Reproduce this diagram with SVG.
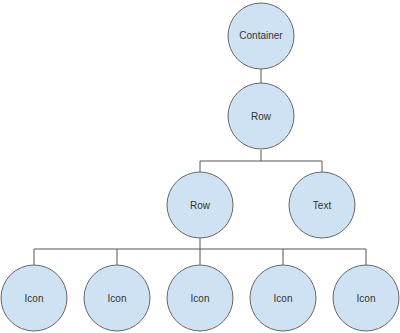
<svg xmlns="http://www.w3.org/2000/svg" width="400" height="333" viewBox="0 0 400 333">
<style>
.n{fill:#cfe2f3;stroke:#666;stroke-width:1}
.t{font-family:"Liberation Sans",Arial,sans-serif;font-size:10px;fill:#333;text-anchor:middle;dominant-baseline:central}
.c{fill:none;stroke:#555;stroke-width:1}
</style>
<rect width="400" height="333" fill="#fff"/>
<g id="connectors">
<path class="c" d="M261,69V83"/>
<path class="c" d="M261,150V161M200,161H322M200,161V172M322,161V172"/>
<path class="c" d="M200,238V249M34,249H366M34,249V265M117,249V265M200,249V265M283,249V265M366,249V265"/>
</g>
<g id="container"><circle class="n" cx="261" cy="36" r="33"/><text class="t" x="261" y="35.5">Container</text></g>
<g id="row1"><circle class="n" cx="261" cy="116" r="33"/><text class="t" x="261" y="116.5">Row</text></g>
<g id="row2"><circle class="n" cx="200" cy="205" r="33"/><text class="t" x="200" y="205">Row</text></g>
<g id="text"><circle class="n" cx="322" cy="205" r="33"/><text class="t" x="322" y="205">Text</text></g>
<g id="icon1"><circle class="n" cx="34" cy="298" r="33"/><text class="t" x="34" y="298">Icon</text></g>
<g id="icon2"><circle class="n" cx="117" cy="298" r="33"/><text class="t" x="117" y="298">Icon</text></g>
<g id="icon3"><circle class="n" cx="200" cy="298" r="33"/><text class="t" x="200" y="298">Icon</text></g>
<g id="icon4"><circle class="n" cx="283" cy="298" r="33"/><text class="t" x="283" y="298">Icon</text></g>
<g id="icon5"><circle class="n" cx="366" cy="298" r="33"/><text class="t" x="366" y="298">Icon</text></g>
</svg>
